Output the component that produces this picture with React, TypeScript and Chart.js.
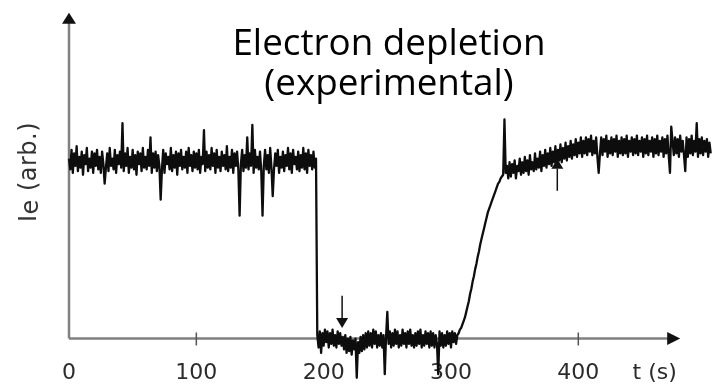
import { useEffect, useRef } from "react";
import { Chart, registerables } from "chart.js";

Chart.register(...registerables);

// ---- data ----
const TIME_STEP = 1; // seconds between samples

// electron current before the depletion (t = 0 .. 194 s)
const HIGH_START = 0;
const highLevel = [
  101, 95, 106, 93, 104, 97, 108, 94, 102, 96,
  105, 92, 103, 98, 107, 94, 101, 96, 105, 93,
  104, 97, 106, 95, 102, 93, 105, 98, 87, 96,
  104, 94, 107, 97, 101, 95, 106, 93, 103, 98,
  105, 96, 121, 94, 104, 97, 107, 93, 102, 96,
  106, 95, 103, 92, 105, 98, 104, 94, 107, 96,
  102, 95, 106, 97, 113, 93, 104, 96, 105, 94,
  103, 97, 78, 95, 106, 93, 104, 98, 102, 95,
  107, 94, 103, 96, 105, 92, 104, 97, 106, 95,
  102, 96, 105, 93, 107, 97, 103, 94, 105, 96,
  104, 95, 106, 93, 102, 98, 117, 94, 105, 96,
  103, 95, 107, 97, 104, 93, 106, 96, 102, 94,
  105, 97, 103, 95, 108, 94, 102, 96, 106, 93,
  104, 97, 105, 95, 69, 98, 106, 94, 103, 96,
  113, 95, 104, 97, 120, 93, 106, 96, 102, 95,
  105, 94, 69, 97, 106, 95, 103, 93, 107, 96,
  80, 95, 104, 97, 106, 93, 102, 96, 105, 94,
  103, 97, 107, 95, 104, 93, 106, 98, 102, 95,
  105, 94, 103, 96, 107, 95, 104, 93, 106, 97,
  103, 95, 105, 96, 101,
];

// depleted state (t = 195 .. 305 s)
const LOW_START = 195;
const lowLevel = [
  2, -5, 4, -8, 3, -4, 5, -2, 4, -5,
  3, -3, 5, -4, 2, -5, 4, -3, 3, -4,
  1, -6, 2, -8, 0, -7, 1, -9, -1, -6,
  0, -22, -2, -8, 1, -7, 2, -6, 3, -5,
  4, -4, 3, -5, 5, -3, 4, -5, 2, -4,
  3, -5, 2, -20, 1, 15, -3, 4, -5, 3,
  -4, 5, -3, 4, -5, 2, -4, 5, -3, 3,
  -5, 4, -3, 5, -4, 2, -5, 3, -4, 4,
  -3, 5, -5, 2, -4, 4, -3, 3, -5, 4,
  -4, 3, -5, 2, -3, -20, 4, -4, 3, -5,
  2, -4, 4, -3, 3, -5, 4, -2, 3, -3,
  2,
];

// recovery and new plateau (t = 306 .. 504 s)
const RECOVERY_START = 306;
const recovery = [
  3, 5, 6, 8, 10, 12, 15, 18, 21, 25,
  28, 32, 35, 39, 42, 46, 49, 53, 56, 59,
  62, 65, 68, 71, 73, 75, 77, 79, 81, 83,
  85, 87, 88, 90, 91, 92, 123, 93, 97, 90,
  99, 91, 98, 93, 100, 90, 97, 94, 101, 92,
  99, 93, 102, 94, 100, 92, 103, 95, 99, 94,
  104, 95, 101, 96, 105, 94, 103, 97, 106, 96,
  104, 98, 107, 97, 105, 99, 108, 98, 106, 100,
  109, 99, 107, 101, 110, 100, 108, 102, 111, 101,
  109, 103, 112, 102, 110, 104, 113, 102, 111, 104,
  113, 103, 112, 105, 114, 103, 111, 104, 113, 102,
  93, 104, 113, 103, 112, 105, 114, 102, 111, 104,
  113, 103, 112, 105, 114, 102, 111, 104, 113, 103,
  112, 104, 114, 102, 111, 105, 113, 103, 112, 104,
  114, 103, 111, 105, 113, 102, 112, 104, 114, 103,
  111, 105, 113, 102, 112, 104, 114, 103, 111, 105,
  113, 102, 112, 104, 114, 103, 93, 119, 111, 103,
  113, 104, 112, 102, 114, 105, 111, 103, 94, 113,
  102, 112, 104, 114, 103, 111, 105, 121, 102, 112,
  104, 113, 103, 111, 105, 112, 102, 110, 104,
];

// axis
const X_MIN = 0;
const X_MAX = 505;
const Y_MIN = 0;
const Y_MAX = 180;
const TICK_VALUES = [0, 100, 200, 300, 400, 460];
const TICK_LABELS = ["0", "100", "200", "300", "400", "t (s)"];
const TICK_MARKS = [100, 200, 300, 400];
const X_AXIS_END = 480;
const Y_AXIS_END = 183;

// annotation arrows (time, tail value, tip value)
const ARROW_T = [214.5, 383.5];
const ARROW_TAIL = [24, 83];
const ARROW_TIP = [6, 101];

// texts
const TITLE_LINES = ["Electron depletion", "(experimental)"];
const Y_TITLE_MAIN = "I";
const Y_TITLE_SUB = "e";
const Y_TITLE_REST = " (arb.)";

const toPoints = (start: number, values: number[]) =>
  values.map((v, i) => ({ x: start + i * TIME_STEP, y: v }));

const decorPlugin = {
  id: "decor",
  beforeDatasetsDraw(chart: any) {
    const { ctx } = chart;
    const xs = chart.scales.x;
    const ys = chart.scales.y;
    const x0 = xs.getPixelForValue(0);
    const y0 = ys.getPixelForValue(0);
    const xEnd = xs.getPixelForValue(X_AXIS_END);
    const yEnd = ys.getPixelForValue(Y_AXIS_END);
    ctx.save();
    ctx.strokeStyle = "#808080";
    ctx.lineWidth = 2.5;
    ctx.beginPath();
    ctx.moveTo(x0, y0);
    ctx.lineTo(xEnd - 10, y0);
    ctx.moveTo(x0, y0);
    ctx.lineTo(x0, yEnd + 8);
    ctx.stroke();
    // tick marks
    ctx.lineWidth = 1.5;
    ctx.strokeStyle = "#555";
    ctx.beginPath();
    TICK_MARKS.forEach((t) => {
      const px = xs.getPixelForValue(t);
      ctx.moveTo(px, y0 - 6);
      ctx.lineTo(px, y0 + 7);
    });
    ctx.stroke();
    // arrow heads
    ctx.fillStyle = "#111";
    ctx.beginPath();
    ctx.moveTo(xEnd, y0);
    ctx.lineTo(xEnd - 13, y0 - 6.5);
    ctx.lineTo(xEnd - 13, y0 + 6.5);
    ctx.closePath();
    ctx.fill();
    ctx.beginPath();
    ctx.moveTo(x0, yEnd);
    ctx.lineTo(x0 - 7, yEnd + 11);
    ctx.lineTo(x0 + 7, yEnd + 11);
    ctx.closePath();
    ctx.fill();
    ctx.restore();
  },
  afterDatasetsDraw(chart: any) {
    const { ctx } = chart;
    const xs = chart.scales.x;
    const ys = chart.scales.y;
    ctx.save();
    ctx.strokeStyle = "#111";
    ctx.fillStyle = "#111";
    ctx.lineWidth = 1.5;
    ARROW_T.forEach((t, i) => {
      const px = xs.getPixelForValue(t);
      const tail = ys.getPixelForValue(ARROW_TAIL[i]);
      const tip = ys.getPixelForValue(ARROW_TIP[i]);
      const dir = tip > tail ? 1 : -1;
      const head = 10;
      ctx.beginPath();
      ctx.moveTo(px, tail);
      ctx.lineTo(px, tip - dir * head);
      ctx.stroke();
      ctx.beginPath();
      ctx.moveTo(px, tip);
      ctx.lineTo(px - 6, tip - dir * head);
      ctx.lineTo(px + 6, tip - dir * head);
      ctx.closePath();
      ctx.fill();
    });
    ctx.restore();
  },
  afterDraw(chart: any) {
    const { ctx } = chart;
    ctx.save();
    // title
    ctx.fillStyle = "#000";
    ctx.font = '36.8px "Open Sans"';
    ctx.textAlign = "center";
    ctx.textBaseline = "alphabetic";
    ctx.fillText(TITLE_LINES[0], 389, 55);
    ctx.fillText(TITLE_LINES[1], 389, 95);
    // y-axis title (rotated)
    ctx.translate(36, 172);
    ctx.rotate(-Math.PI / 2);
    ctx.fillStyle = "#333";
    ctx.font = '24px "DejaVu Sans"';
    try {
      (ctx as any).letterSpacing = "0.5px";
    } catch (e) {}
    ctx.textAlign = "left";
    const wMain = ctx.measureText(Y_TITLE_MAIN).width;
    const wSub = ctx.measureText(Y_TITLE_SUB).width;
    const wRest = ctx.measureText(Y_TITLE_REST).width;
    let xPos = -(wMain + wSub + wRest) / 2;
    ctx.fillText(Y_TITLE_MAIN, xPos, 0);
    xPos += wMain;
    ctx.fillText(Y_TITLE_SUB, xPos, 2);
    xPos += wSub;
    ctx.fillText(Y_TITLE_REST, xPos, 0);
    ctx.restore();
  },
};

export default function App() {
  const canvasRef = useRef<HTMLCanvasElement | null>(null);

  useEffect(() => {
    if (!canvasRef.current) return;
    const data = [
      ...toPoints(HIGH_START, highLevel),
      ...toPoints(LOW_START, lowLevel),
      ...toPoints(RECOVERY_START, recovery),
    ];
    const chart = new Chart(canvasRef.current, {
      type: "line",
      data: {
        datasets: [
          {
            data,
            borderColor: "#0d0d0d",
            borderWidth: 2.3,
            borderJoinStyle: "round",
            pointRadius: 0,
            tension: 0,
            fill: false,
            clip: false as any,
          },
        ],
      },
      options: {
        animation: false,
        responsive: false,
        events: [],
        layout: { padding: { left: 69, right: 2, top: 18, bottom: -13 } },
        plugins: {
          legend: { display: false },
          title: { display: false },
          tooltip: { enabled: false },
        },
        scales: {
          x: {
            type: "linear",
            min: X_MIN,
            max: X_MAX,
            grid: { display: false },
            border: { display: false },
            afterBuildTicks: (scale: any) => {
              scale.ticks = TICK_VALUES.map((v) => ({ value: v }));
            },
            ticks: {
              autoSkip: false,
              maxRotation: 0,
              minRotation: 0,
              padding: 13,
              color: "#2b2b2b",
              font: { family: "DejaVu Sans", size: 22 },
              callback: (_v: any, i: number) => TICK_LABELS[i],
            },
          },
          y: {
            type: "linear",
            min: Y_MIN,
            max: Y_MAX,
            display: false,
          },
        },
      },
      plugins: [decorPlugin],
    });
    return () => chart.destroy();
  }, []);

  return (
    <div style={{ position: "absolute", left: 0, top: 0, width: 714, height: 386, background: "#fff" }}>
      <canvas ref={canvasRef} width={714} height={386} style={{ display: "block" }} />
    </div>
  );
}
